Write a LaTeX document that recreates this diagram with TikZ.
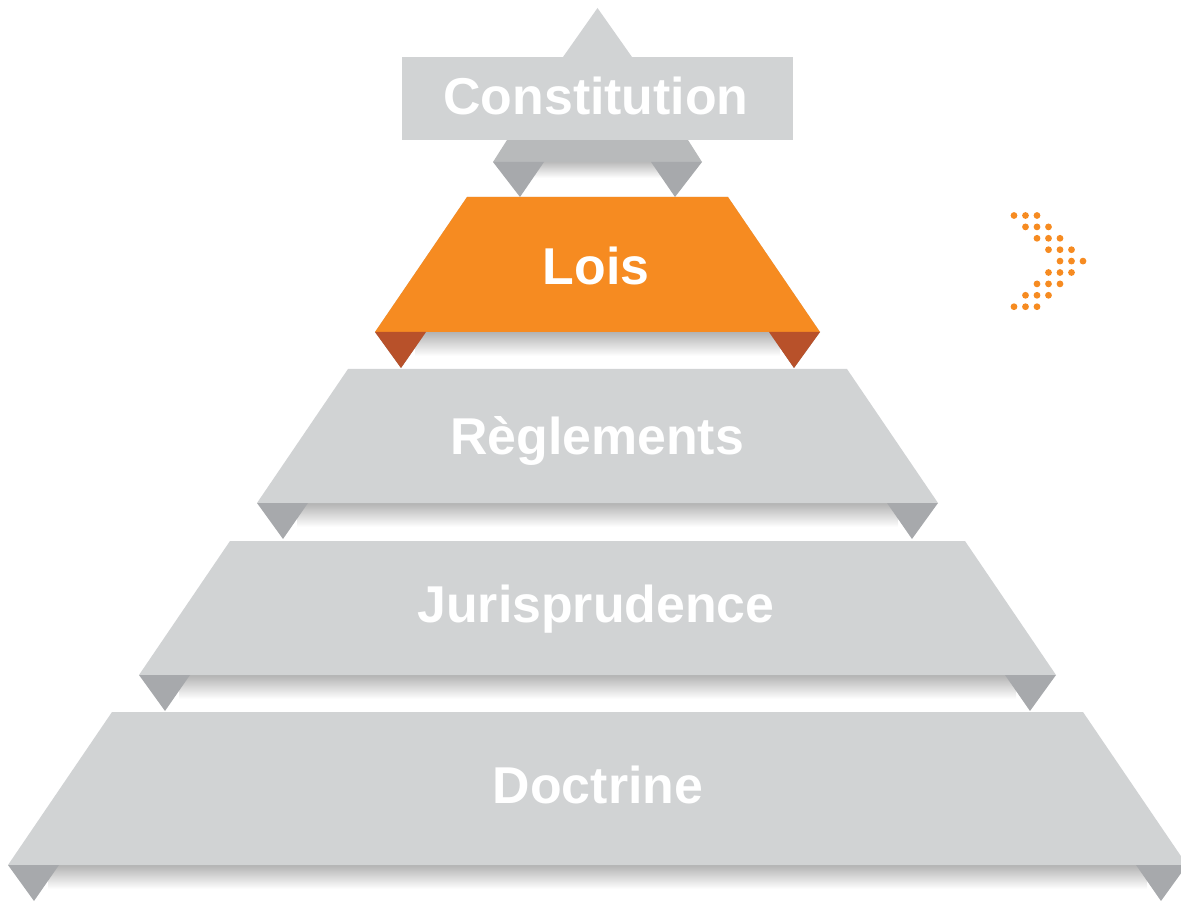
\documentclass[tikz,border=0pt]{standalone}
\usepackage{fontspec}
\setmainfont{Liberation Sans}
\usepackage{tikz}
\usetikzlibrary{calc}
\definecolor{grigio}{HTML}{D1D3D4}
\definecolor{grigioscuro}{HTML}{A7A9AC}
\definecolor{arancio}{HTML}{F68B21}
\definecolor{aranciosc}{HTML}{B8512A}
\tikzset{
x=0.02cm, y=-0.02cm,
livello/.style={fill=grigio},
piega/.style={fill=grigioscuro},
ombra/.style={top color=black!40, bottom color=white},
etichetta/.style={anchor=base,text=white,font=\bfseries\fontsize{29.5}{30}\selectfont,inner sep=0pt},
punto/.style={fill=arancio}}

\begin{document}
\begin{tikzpicture}

\useasboundingbox (0,0) rectangle (1181,902);

% livelli della piramide: nome/alto/basso/x alto/x basso/testo
\foreach \nome/\ya/\yb/\xa/\xb/\testo in {lois/197/332/467/375/Lois,
  regl/369/503/348/257/Règlements,
  juris/541/675/230/139/Jurisprudence,
  doct/712/865/112/8/Doctrine}{
  \shade[ombra] (\xb+40,\yb-8) rectangle (1195-\xb-40,\yb+24);
  \fill[livello] (\xa,\ya) -- (1195-\xa,\ya) -- (1195-\xb,\yb) -- (\xb,\yb) -- cycle;
  \fill[piega] (\xb,\yb) -- (\xb+51,\yb) -- (\xb+26,\yb+36) -- cycle;
  \fill[piega] (1195-\xb,\yb) -- (1195-\xb-51,\yb) -- (1195-\xb-26,\yb+36) -- cycle;
}

% livello arancione
\fill[arancio] (467,197) -- (728,197) -- (820,332) -- (375,332) -- cycle;
\fill[aranciosc] (375,332) -- (426,332) -- (401,368) -- cycle;
\fill[aranciosc] (820,332) -- (769,332) -- (794,368) -- cycle;

% costituzione
\shade[ombra] (530,154) rectangle (665,178);
\fill[grigio!88!black] (507,140) -- (688,140) -- (702,162) -- (493,162) -- cycle;
\fill[piega] (493,162) -- (544,162) -- (520,197) -- cycle;
\fill[piega] (702,162) -- (651,162) -- (675,197) -- cycle;
\fill[grigio] (563,57) -- (597.5,8) -- (632,57) -- cycle;
\fill[grigio] (402,57) rectangle (793,140);

\node[etichetta] (const) at (596,115) {Constitution};
\node[etichetta] (lois) at (596,285) {Lois};
\node[etichetta] (regl) at (597,455) {Règlements};
\node[etichetta] (juris) at (596,622) {Jurisprudence};
\node[etichetta] (doct) at (598,803) {Doctrine};

% freccia a punti
\foreach \r in {0,...,8}{
  \pgfmathtruncatemacro{\k}{4-abs(\r-4)}
  \foreach \c in {0,1,2}
    \fill[punto] ({1014+11.5*(\k+\c)},{215.5+11.4*\r}) circle (3.4);
}

\end{tikzpicture}
\end{document}
